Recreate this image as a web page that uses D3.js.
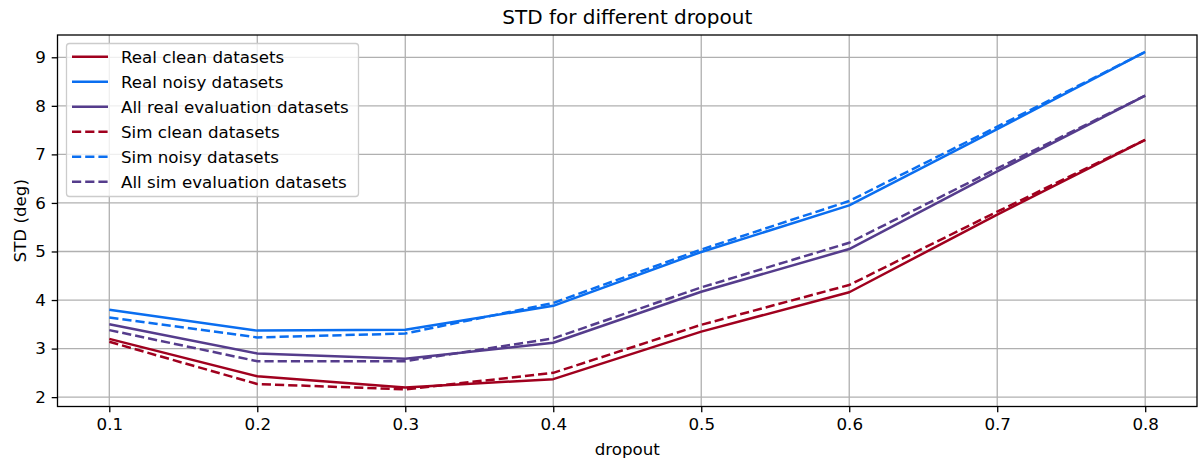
<!DOCTYPE html>
<html>
<head>
<meta charset="utf-8">
<script src="https://cdn.jsdelivr.net/npm/d3@7"></script>
<style>
  html, body { margin: 0; padding: 0; background: #fff; }
  svg { display: block; font-family: "DejaVu Sans", sans-serif; }
</style>
</head>
<body>
<svg id="chart" width="1200" height="465"></svg>
<script>
// Dropout rates on the x axis
const dropout = [0.1, 0.2, 0.3, 0.4, 0.5, 0.6, 0.7, 0.8];

// STD (deg) per dataset group
const realClean = [3.20, 2.43, 2.20, 2.37, 3.35, 4.16, 5.76, 7.30];
const realNoisy = [3.80, 3.37, 3.39, 3.88, 4.99, 5.95, 7.52, 9.11];
const realAll   = [3.50, 2.90, 2.79, 3.12, 4.17, 5.05, 6.65, 8.21];
const simClean  = [3.14, 2.27, 2.16, 2.50, 3.49, 4.31, 5.82, 7.30];
const simNoisy  = [3.64, 3.23, 3.31, 3.94, 5.04, 6.04, 7.57, 9.11];
const simAll    = [3.38, 2.74, 2.74, 3.21, 4.26, 5.18, 6.71, 8.21];

const xTicks = [0.1, 0.2, 0.3, 0.4, 0.5, 0.6, 0.7, 0.8];
const yTicks = [2, 3, 4, 5, 6, 7, 8, 9];

const RED = "#a0001e", BLUE = "#0a6ef0", PURPLE = "#553c8c";

const series = [
  { name: "Real clean datasets", values: realClean, color: RED, dashed: false },
  { name: "Real noisy datasets", values: realNoisy, color: BLUE, dashed: false },
  { name: "All real evaluation datasets", values: realAll, color: PURPLE, dashed: false },
  { name: "Sim clean datasets", values: simClean, color: RED, dashed: true },
  { name: "Sim noisy datasets", values: simNoisy, color: BLUE, dashed: true },
  { name: "All sim evaluation datasets", values: simAll, color: PURPLE, dashed: true }
];

const plotL = 57.5, plotR = 1197, plotT = 35, plotB = 406.5;
const FS = 16.7, LW = 2.5, DASH = "9.2,4";
const svg = d3.select("#chart");

const x = d3.scaleLinear().domain([0.065, 0.835]).range([plotL, plotR]);
const y = d3.scaleLinear().domain([1.807, 9.459]).range([plotB, plotT]);

// grid
const grid = svg.append("g").attr("stroke", "#b0b0b0").attr("stroke-width", 1.3);
xTicks.forEach(t => grid.append("line")
  .attr("x1", x(t)).attr("x2", x(t)).attr("y1", plotT).attr("y2", plotB));
yTicks.forEach(t => grid.append("line")
  .attr("x1", plotL).attr("x2", plotR).attr("y1", y(t)).attr("y2", y(t)));

// lines
const line = d3.line().x((d, i) => x(dropout[i])).y(d => y(d));
series.forEach(s => {
  svg.append("path")
    .datum(s.values)
    .attr("d", line)
    .attr("fill", "none")
    .attr("stroke", s.color)
    .attr("stroke-width", LW)
    .attr("stroke-linecap", "butt")
    .attr("stroke-linejoin", "round")
    .attr("stroke-dasharray", s.dashed ? DASH : null);
});

// axes
const xAxis = d3.axisBottom(x).tickValues(xTicks).tickFormat(d3.format(".1f")).tickSizeOuter(0).tickSize(5.8).tickPadding(5.8);
const yAxis = d3.axisLeft(y).tickValues(yTicks).tickFormat(d3.format("d")).tickSizeOuter(0).tickSize(5.8).tickPadding(5.8);

const gx = svg.append("g").attr("transform", `translate(0,${plotB})`).call(xAxis);
const gy = svg.append("g").attr("transform", `translate(${plotL},0)`).call(yAxis);
[gx, gy].forEach(g => {
  g.select(".domain").remove();
  g.selectAll("line").attr("stroke", "#000").attr("stroke-width", 1.3);
  g.selectAll("text").attr("fill", "#000").style("font-size", FS + "px").style("font-family", "DejaVu Sans");
});

// frame
svg.append("rect")
  .attr("x", plotL).attr("y", plotT)
  .attr("width", plotR - plotL).attr("height", plotB - plotT)
  .attr("fill", "none").attr("stroke", "#000").attr("stroke-width", 1.3);

// titles
svg.append("text")
  .attr("x", (plotL + plotR) / 2).attr("y", 24)
  .attr("text-anchor", "middle").style("font-size", "20px")
  .text("STD for different dropout");
svg.append("text")
  .attr("x", (plotL + plotR) / 2).attr("y", 455)
  .attr("text-anchor", "middle").style("font-size", FS + "px")
  .text("dropout");
svg.append("text")
  .attr("transform", `translate(26,${(plotT + plotB) / 2}) rotate(-90)`)
  .attr("text-anchor", "middle").style("font-size", FS + "px")
  .text("STD (deg)");

// legend
const lg = svg.append("g");
lg.append("rect")
  .attr("x", 66.5).attr("y", 43.5).attr("width", 292).attr("height", 153)
  .attr("rx", 3).attr("fill", "#fff").attr("fill-opacity", 0.8)
  .attr("stroke", "#cccccc").attr("stroke-width", 1.3);
series.forEach((s, i) => {
  const cy = 56.7 + i * 25;
  lg.append("line")
    .attr("x1", 72).attr("x2", 108).attr("y1", cy).attr("y2", cy)
    .attr("stroke", s.color).attr("stroke-width", LW)
    .attr("stroke-dasharray", s.dashed ? DASH : null);
  lg.append("text")
    .attr("x", 121).attr("y", cy + 6)
    .style("font-size", FS + "px")
    .text(s.name);
});
</script>
</body>
</html>
